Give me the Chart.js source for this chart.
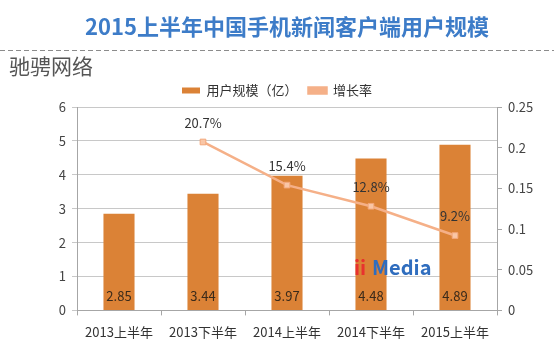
<!DOCTYPE html>
<html>
<head>
<meta charset="utf-8">
<script src="https://cdn.jsdelivr.net/npm/chart.js@4"></script>
<style>
  html, body { margin: 0; padding: 0; background: #fff; }
  #wrap { width: 554px; height: 362px; }
</style>
</head>
<body>
<div id="wrap"><canvas id="chart" width="554" height="362"></canvas></div>
<script>
// data
const categories = ['2013上半年', '2013下半年', '2014上半年', '2014下半年', '2015上半年'];
const users = [2.85, 3.44, 3.97, 4.48, 4.89];          // 亿
const growth = [null, 0.207, 0.154, 0.128, 0.092];     // 增长率
const titleText = '2015上半年中国手机新闻客户端用户规模';
const brandText = '驰骋网络';

const FONT = '"Noto Sans CJK SC", "Noto Sans", sans-serif';
const barColor = '#DB8236';
const lineColor = '#F5B088';

// title, dashed rule, brand, watermark and value labels
const decor = {
    id: 'decor',
    afterDraw(chart) {
        const c = chart.ctx;
        c.save();
        // title
        c.font = 'bold 22px ' + FONT;
        c.fillStyle = '#3D7CC8';
        c.textAlign = 'center';
        c.textBaseline = 'middle';
        c.fillText(titleText, 287, 27);
        // dashed rule
        c.strokeStyle = '#8C8C8C';
        c.lineWidth = 1;
        c.setLineDash([5, 3]);
        c.beginPath();
        c.moveTo(0, 50.5);
        c.lineTo(554, 50.5);
        c.stroke();
        c.setLineDash([]);
        // brand
        c.font = '21px ' + FONT;
        c.fillStyle = '#555';
        c.textAlign = 'left';
        c.fillText(brandText, 9, 66);

        // watermark
        c.font = 'bold 20px ' + FONT;
        c.textBaseline = 'alphabetic';
        c.fillStyle = '#E8322E';
        c.fillText('ii', 354, 275);
        c.fillStyle = '#2F6DBE';
        c.fillText('Media', 372, 275);

        // bar labels
        const barMeta = chart.getDatasetMeta(0);
        const yScale = chart.scales.y;
        c.font = '13px ' + FONT;
        c.fillStyle = '#3A2A1A';
        c.textAlign = 'center';
        c.textBaseline = 'middle';
        barMeta.data.forEach((bar, i) => {
            c.fillText(users[i].toFixed(2), bar.x, yScale.getPixelForValue(0) - 14);
        });
        // line labels
        const lineMeta = chart.getDatasetMeta(1);
        c.fillStyle = '#333';
        lineMeta.data.forEach((pt, i) => {
            if (growth[i] == null) return;
            c.fillText((growth[i] * 100).toFixed(1) + '%', pt.x, pt.y - 19);
        });
        c.restore();
    }
};

new Chart(document.getElementById('chart'), {
    type: 'bar',
    data: {
        labels: categories,
        datasets: [
            {
                type: 'bar',
                label: '用户规模（亿）',
                data: users,
                backgroundColor: barColor,
                yAxisID: 'y',
                categoryPercentage: 1,
                barPercentage: 0.37,
                order: 2
            },
            {
                type: 'line',
                label: '增长率',
                data: growth,
                borderColor: lineColor,
                backgroundColor: lineColor,
                borderWidth: 2.5,
                pointStyle: 'rect',
                pointRadius: 4,
                pointBackgroundColor: '#F9C6A6',
                pointBorderColor: '#F3A77A',
                pointBorderWidth: 1,
                yAxisID: 'y1',
                spanGaps: true,
                order: 1
            }
        ]
    },
    options: {
        responsive: false,
        animation: false,
        layout: { padding: { top: 73, left: 0, right: 0, bottom: 13 } },
        plugins: {
            legend: {
                display: true,
                position: 'top',
                labels: {
                    boxWidth: 18,
                    boxHeight: 6,
                    padding: 11,
                    color: '#333',
                    font: { family: FONT, size: 13 },
                    sort: (a, b) => a.datasetIndex - b.datasetIndex
                }
            },
            tooltip: { enabled: false }
        },
        scales: {
            x: {
                offset: true,
                grid: {
                    display: true,
                    offset: true,
                    drawOnChartArea: false,
                    tickLength: 5,
                    color: '#A6A6A6'
                },
                border: { color: '#A6A6A6' },
                ticks: { color: '#333', font: { family: FONT, size: 13 }, padding: 9 }
            },
            y: {
                position: 'left',
                min: 0,
                max: 6,
                ticks: { stepSize: 1, color: '#444', font: { family: FONT, size: 13 }, padding: 6 },
                grid: { color: '#C8C8C8', tickLength: 5 },
                border: { color: '#A6A6A6' },
                afterFit(s) { s.width = 77; }
            },
            y1: {
                position: 'right',
                min: 0,
                max: 0.25,
                ticks: {
                    stepSize: 0.05,
                    color: '#444',
                    font: { family: FONT, size: 13 },
                    padding: 6,
                    callback: v => String(Math.round(v * 100) / 100)
                },
                grid: { drawOnChartArea: false, tickLength: 5, color: '#A6A6A6' },
                border: { color: '#A6A6A6' },
                afterFit(s) { s.width = 57; }
            }
        }
    },
    plugins: [decor]
});
</script>
</body>
</html>
